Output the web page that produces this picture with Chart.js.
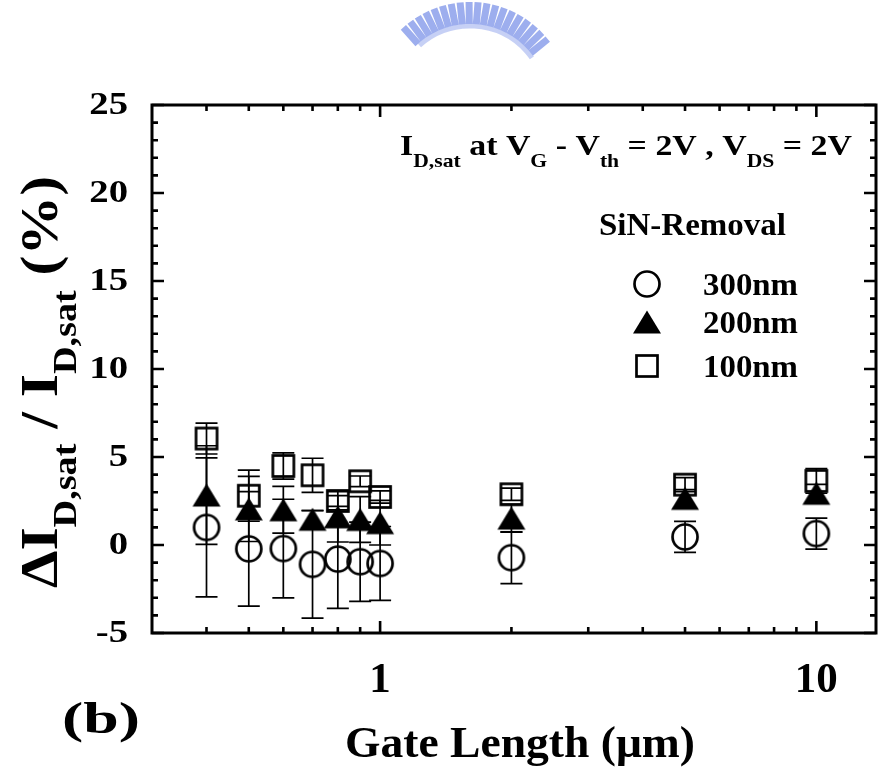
<!DOCTYPE html>
<html>
<head>
<meta charset="utf-8">
<script src="https://cdn.jsdelivr.net/npm/chart.js@4.4.0/dist/chart.umd.min.js"></script>
<style>
  html, body { margin: 0; padding: 0; background: #fff; }
  #wrap { width: 889px; height: 778px; position: relative; }
</style>
</head>
<body>
<div id="wrap"><canvas id="chart" width="889" height="778"></canvas></div>
<script>
// gate length (um) and drift of I_D,sat (%) for each SiN-removal thickness
const gateLength = [0.4, 0.5, 0.6, 0.7, 0.8, 0.9, 1, 2, 5, 10];

const drift300 = [1.0, -0.22, -0.2, -1.1, -0.8, -0.95, -1.05, -0.72, 0.46, 0.65];
const err300   = [3.95, 3.25, 2.8, 3.05, 2.8, 2.25, 2.1, 1.47, 0.88, 0.88];

const drift200 = [2.84, 2.05, 2.0, 1.46, 1.6, 1.45, 1.27, 1.53, 2.65, 2.94];
const err200   = [2.8, 1.85, 1.33, 0.5, 1.43, 1.3, 1.27, 0.8, 0.5, 0.5];

const drift100 = [6.05, 2.8, 4.49, 3.96, 2.5, 3.62, 2.73, 2.88, 3.43, 3.64];
const err100   = [0.88, 1.45, 0.75, 0.97, 0.3, 0.3, 0.35, 0.35, 0.4, 0.7];

const seriesNames = ['300nm', '200nm', '100nm'];

const yTickLabels = [-5, 0, 5, 10, 15, 20, 25];
const xTickLabels = [1, 10];
const xMinorTicks = [0.4, 0.5, 0.6, 0.7, 0.8, 0.9, 2, 3, 4, 5, 6, 7, 8, 9];

const FONT = '"Liberation Serif", serif';

function makeMarker(kind) {
    const c = document.createElement('canvas');
    c.width = 32; c.height = 32;
    const g = c.getContext('2d');
    g.strokeStyle = '#000';
    g.fillStyle = '#000';
    g.lineWidth = 2.7;
    if (kind === 'circle') {
        g.beginPath();
        g.arc(16, 16, 12.5, 0, Math.PI * 2);
        g.stroke();
    } else if (kind === 'square') {
        g.strokeRect(16 - 10.5, 16 - 10.5, 21, 21);
    } else {
        g.beginPath();
        g.moveTo(16, 4.5);
        g.lineTo(30, 27.5);
        g.lineTo(2, 27.5);
        g.closePath();
        g.fill();
    }
    return c;
}

const markers = [makeMarker('circle'), makeMarker('triangle'), makeMarker('square')];

function pts(ys) {
    return gateLength.map((x, i) => ({ x: x, y: ys[i] }));
}

// text with subscripts, optionally stretched to a target width
function richWidth(ctx, segs, size, subK) {
    let w = 0;
    segs.forEach(s => {
        ctx.font = 'bold ' + (s.sub ? size * subK : size) + 'px ' + FONT;
        w += ctx.measureText(s.t).width;
    });
    return w;
}

function drawRich(ctx, segs, x, y, size, opts) {
    opts = opts || {};
    const subK = opts.subSize || 0.64;
    const subDy = opts.subShift || 0.4;
    const nat = richWidth(ctx, segs, size, subK);
    const sx = opts.width ? opts.width / nat : 1;
    ctx.save();
    ctx.translate(x, y);
    if (opts.rotate) ctx.rotate(opts.rotate);
    ctx.scale(sx, 1);
    ctx.fillStyle = '#000';
    ctx.textAlign = 'left';
    ctx.textBaseline = 'alphabetic';
    let cx = opts.align === 'center' ? -nat / 2 : 0;
    segs.forEach(s => {
        ctx.font = 'bold ' + (s.sub ? size * subK : size) + 'px ' + FONT;
        ctx.fillText(s.t, cx, s.sub ? size * subDy : 0);
        cx += ctx.measureText(s.t).width;
    });
    ctx.restore();
}

const errorBars = {
    id: 'errorBars',
    beforeDatasetsDraw(chart) {
        const ctx = chart.ctx;
        const xs = chart.scales.x, ys = chart.scales.y;
        const errs = [err300, err200, err100];
        const vals = [drift300, drift200, drift100];
        ctx.save();
        ctx.strokeStyle = '#000';
        ctx.lineWidth = 1.7;
        vals.forEach((v, k) => {
            gateLength.forEach((g, i) => {
                const px = xs.getPixelForValue(g);
                const top = ys.getPixelForValue(v[i] + errs[k][i]);
                const bot = ys.getPixelForValue(v[i] - errs[k][i]);
                ctx.beginPath();
                ctx.moveTo(px, top); ctx.lineTo(px, bot);
                ctx.moveTo(px - 11, top); ctx.lineTo(px + 11, top);
                ctx.moveTo(px - 11, bot); ctx.lineTo(px + 11, bot);
                ctx.stroke();
            });
        });
        ctx.restore();
    }
};

const frame = {
    id: 'frame',
    afterDraw(chart) {
        const ctx = chart.ctx;
        const a = chart.chartArea;
        const xs = chart.scales.x, ys = chart.scales.y;
        ctx.save();
        ctx.strokeStyle = '#000';
        ctx.lineWidth = 3;
        ctx.strokeRect(a.left, a.top, a.right - a.left, a.bottom - a.top);

        // inward ticks on all four sides
        ctx.lineWidth = 2.6;
        ctx.beginPath();
        for (let v = yTickLabels[0]; v <= yTickLabels[yTickLabels.length - 1]; v++) {
            const py = ys.getPixelForValue(v);
            const len = v % 5 === 0 ? 12 : 6;
            ctx.moveTo(a.left, py); ctx.lineTo(a.left + len, py);
            ctx.moveTo(a.right, py); ctx.lineTo(a.right - len, py);
        }
        xMinorTicks.concat(xTickLabels).forEach(v => {
            const px = xs.getPixelForValue(v);
            const len = xTickLabels.includes(v) ? 12 : 6;
            ctx.moveTo(px, a.bottom); ctx.lineTo(px, a.bottom - len);
            ctx.moveTo(px, a.top); ctx.lineTo(px, a.top + len);
        });
        ctx.stroke();

        // tick labels
        ctx.fillStyle = '#000';
        ctx.textBaseline = 'alphabetic';
        yTickLabels.forEach(v => {
            const py = ys.getPixelForValue(v);
            ctx.save();
            ctx.translate(128, py + 9);
            ctx.scale(1.25, 1);
            ctx.font = 'bold 31px ' + FONT;
            ctx.textAlign = 'right';
            ctx.fillText(String(v), 0, 0);
            ctx.restore();
        });
        ctx.font = 'bold 43px ' + FONT;
        ctx.textAlign = 'center';
        xTickLabels.forEach(v => {
            ctx.fillText(String(v), xs.getPixelForValue(v), 692);
        });

        // axis titles
        drawRich(ctx, [{ t: 'Gate Length (\u03BCm)' }], 345, 757, 44, { width: 350 });
        drawRich(ctx, [
            { t: '\u0394I' }, { t: 'D,sat', sub: true },
            { t: ' / I' }, { t: 'D,sat', sub: true },
            { t: ' (%)' }
        ], 57, 382, 52, { align: 'center', rotate: -Math.PI / 2, width: 412, subShift: 0.36 });

        // condition annotation
        drawRich(ctx, [
            { t: 'I' }, { t: 'D,sat', sub: true },
            { t: ' at V' }, { t: 'G', sub: true },
            { t: ' - V' }, { t: 'th', sub: true },
            { t: ' = 2V , V' }, { t: 'DS', sub: true },
            { t: ' = 2V' }
        ], 400, 155, 29, { width: 452 });

        // legend
        drawRich(ctx, [{ t: 'SiN-Removal' }], 599, 235, 31, { width: 187 });
        const legY = [284, 322, 366];
        seriesNames.forEach((n, i) => {
            ctx.drawImage(markers[i], 647 - 16, legY[i] - 16);
            drawRich(ctx, [{ t: n }], 703, legY[i] + 11, 31, { width: 95 });
        });

        // panel label
        drawRich(ctx, [{ t: '(b)' }], 62, 733, 45, { width: 78 });

        // faint logo watermark at the top
        ctx.strokeStyle = 'rgba(140,160,235,0.85)';
        ctx.lineWidth = 7;
        ctx.beginPath();
        for (let t = -2.3; t <= -0.62; t += 0.09) {
            ctx.moveTo(470 + 78 * Math.cos(t), 102 + 78 * Math.sin(t));
            ctx.lineTo(470 + 100 * Math.cos(t), 102 + 100 * Math.sin(t));
        }
        ctx.stroke();
        ctx.lineWidth = 5;
        ctx.strokeStyle = 'rgba(160,176,238,0.6)';
        ctx.beginPath();
        ctx.arc(470, 102, 76, -2.3, -0.62);
        ctx.stroke();
        ctx.restore();
    }
};

const ctx = document.getElementById('chart').getContext('2d');
new Chart(ctx, {
    type: 'scatter',
    data: {
        datasets: seriesNames.map((n, i) => ({
            label: n,
            data: pts([drift300, drift200, drift100][i]),
            pointStyle: markers[i],
            pointRadius: 12,
            pointHoverRadius: 12,
            showLine: false
        }))
    },
    options: {
        responsive: false,
        animation: false,
        events: [],
        layout: { padding: { top: 105, right: 2, left: 0, bottom: 0 } },
        plugins: { legend: { display: false }, tooltip: { enabled: false } },
        scales: {
            x: {
                type: 'logarithmic',
                min: 0.3,
                max: 13.7,
                grid: { display: false },
                border: { display: false },
                ticks: { display: false },
                afterFit(s) { s.height = 145; }
            },
            y: {
                type: 'linear',
                min: -5,
                max: 25,
                grid: { display: false },
                border: { display: false },
                ticks: { display: false },
                afterFit(s) { s.width = 152; }
            }
        }
    },
    plugins: [errorBars, frame]
});
</script>
</body>
</html>
